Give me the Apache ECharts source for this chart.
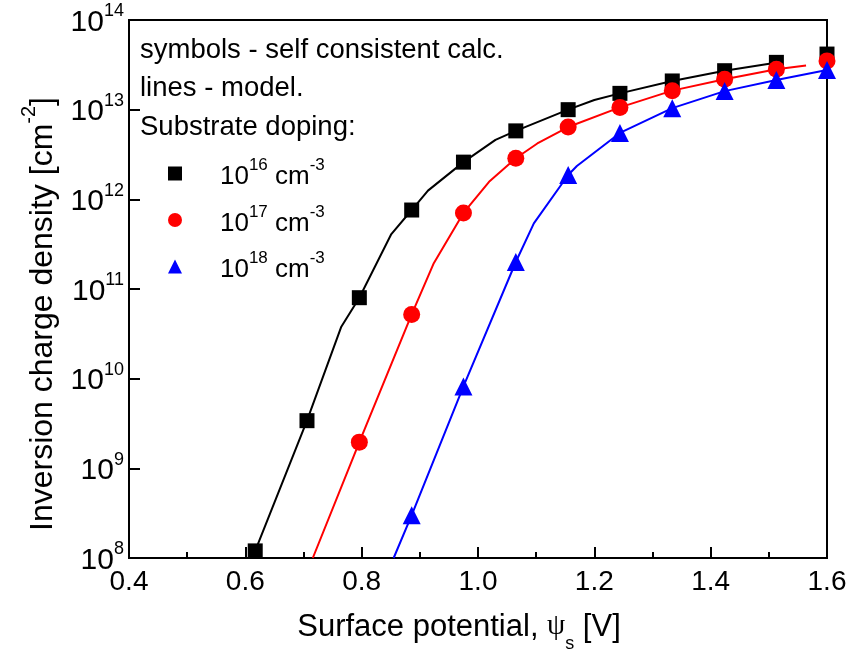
<!DOCTYPE html>
<html><head><meta charset="utf-8">
<script src="https://cdn.jsdelivr.net/npm/echarts@6/dist/echarts.min.js"></script>
<style>html,body{margin:0;padding:0;background:#fff}#c{width:859px;height:652px}</style>
</head><body><div id="c"></div>
<script>
// ---- data ----
const xTicksMin = 0.4, xTicksMax = 1.6;
const yDecades = [8, 9, 10, 11, 12, 13, 14];

// symbols: self consistent calculation
const symX16 = [0.617, 0.706, 0.796, 0.886, 0.975, 1.065, 1.155, 1.244, 1.334, 1.424, 1.513, 1.600];
const symY16 = [1.2e8, 3.4e9, 8.0e10, 7.6e11, 2.6e12, 5.8e12, 1.0e13, 1.52e13, 2.09e13, 2.72e13, 3.37e13, 4.17e13];

const symX17 = [0.796, 0.886, 0.975, 1.065, 1.155, 1.244, 1.334, 1.424, 1.513, 1.600];
const symY17 = [1.96e9, 5.2e10, 7.05e11, 2.87e12, 6.4e12, 1.06e13, 1.63e13, 2.18e13, 2.82e13, 3.5e13];

const symX18 = [0.886, 0.975, 1.065, 1.155, 1.244, 1.334, 1.424, 1.513, 1.600];
const symY18 = [3.0e8, 8.2e9, 2.0e11, 1.87e12, 5.5e12, 1.04e13, 1.61e13, 2.14e13, 2.77e13];

// lines: model
const modX16 = [0.612, 0.617, 0.706, 0.765, 0.796, 0.851, 0.886, 0.914, 0.975, 1.030, 1.065, 1.155, 1.200, 1.244, 1.334, 1.424, 1.520];
const modY16 = [1.0e8, 1.2e8, 3.4e9, 3.8e10, 8.0e10, 4.1e11, 7.6e11, 1.25e12, 2.6e12, 4.6e12, 5.8e12, 1.0e13, 1.28e13, 1.52e13, 2.09e13, 2.72e13, 3.4e13];

const modX17 = [0.716, 0.796, 0.886, 0.924, 0.975, 1.019, 1.065, 1.102, 1.155, 1.244, 1.334, 1.424, 1.513, 1.564];
const modY17 = [1.0e8, 1.96e9, 5.2e10, 1.94e11, 7.05e11, 1.57e12, 2.87e12, 4.2e12, 6.4e12, 1.06e13, 1.63e13, 2.18e13, 2.82e13, 3.1e13];

const modX18 = [0.855, 0.886, 0.975, 1.065, 1.096, 1.155, 1.170, 1.244, 1.334, 1.424, 1.513, 1.600];
const modY18 = [1.0e8, 3.0e8, 8.2e9, 2.0e11, 5.4e11, 1.87e12, 2.35e12, 5.5e12, 1.04e13, 1.61e13, 2.14e13, 2.77e13];

const seriesNames = ['16', '17', '18'];
const colors = ['#000000', '#ff0000', '#0000ff'];
const symbols = ['rect', 'circle', 'triangle'];

const infoLines = ['symbols - self consistent calc.', 'lines - model.', 'Substrate doping:'];

// ---- build ----
const zip = (xs, ys) => xs.map((x, i) => [x, ys[i]]);
const FONT = "'Liberation Sans', Arial, Helvetica, sans-serif";
const chart = echarts.init(document.getElementById('c'), null, {renderer: 'canvas'});

const modPairs = [zip(modX16, modY16), zip(modX17, modY17), zip(modX18, modY18)];
const symPairs = [zip(symX16, symY16), zip(symX17, symY17), zip(symX18, symY18)];
const symSizes = [15, 17, 18];

const series = [];
for (let i = 0; i < 3; i++) {
  series.push({
    type: 'line', name: 'model' + seriesNames[i], data: modPairs[i],
    symbol: 'none', showSymbol: false, smooth: false, clip: true,
    lineStyle: {color: colors[i], width: 2}, itemStyle: {color: colors[i]}, z: 2,
    silent: true
  });
}
for (let i = 0; i < 3; i++) {
  series.push({
    type: 'scatter', name: seriesNames[i], data: symPairs[i],
    symbol: symbols[i], symbolSize: symSizes[i], clip: false,
    itemStyle: {color: colors[i], opacity: 1}, z: 3, silent: true
  });
}

const option = {
  animation: false,
  backgroundColor: '#fff',
  textStyle: {fontFamily: FONT, color: '#000'},
  title: {
    text: infoLines.join('\n'), left: 140, top: 31, padding: 0,
    textStyle: {fontFamily: FONT, fontSize: 27.5, fontWeight: 'normal', color: '#000', lineHeight: 38.5}
  },
  legend: {
    data: seriesNames, orient: 'vertical', left: 168, top: 157, padding: 0,
    itemWidth: 14, itemHeight: 14, itemGap: 13.5, selectedMode: false,
    formatter: n => '{p| }{b|10}{s|' + n + '}{b| cm}{s|-3}',
    textStyle: {
      color: '#000', fontFamily: FONT,
      rich: {
        p: {width: 33, fontSize: 10},
        b: {fontSize: 26, lineHeight: 33, verticalAlign: 'bottom', fontFamily: FONT, color: '#000'},
        s: {fontSize: 17, lineHeight: 14, verticalAlign: 'top', fontFamily: FONT, color: '#000'}
      }
    }
  },
  grid: {left: 129, right: 32, top: 20, bottom: 94, show: true, borderColor: '#000', borderWidth: 2,
         containLabel: false, outerBoundsMode: 'none'},
  xAxis: {
    type: 'value', min: xTicksMin, max: xTicksMax, interval: 0.2,
    name: '{a|Surface potential, }{g|ψ}{sub|s}{a| [V]}',
    nameLocation: 'middle', nameGap: 54,
    nameTextStyle: {
      padding: [0, 38, 0, 0],
      rich: {
        a: {fontSize: 31, lineHeight: 36, verticalAlign: 'top', fontFamily: FONT, color: '#000'},
        g: {fontSize: 29, lineHeight: 36, verticalAlign: 'top', fontFamily: "'Liberation Serif', serif", color: '#000'},
        sub: {fontSize: 18, lineHeight: 41, verticalAlign: 'bottom', fontFamily: FONT, color: '#000'}
      }
    },
    axisLine: {show: true, lineStyle: {color: '#000', width: 2}},
    axisTick: {show: true, inside: true, length: 11, lineStyle: {color: '#000', width: 2}},
    minorTick: {show: true, splitNumber: 2, length: 6, lineStyle: {color: '#000', width: 2}},
    splitLine: {show: false},
    axisLabel: {formatter: v => v.toFixed(1), fontSize: 28, color: '#000', fontFamily: FONT, margin: 10}
  },
  yAxis: {
    type: 'log', logBase: 10, min: Math.pow(10, yDecades[0]), max: Math.pow(10, yDecades[yDecades.length - 1]),
    splitNumber: yDecades.length - 1,
    name: '{a|Inversion charge density [cm}{s|-2}{a|]}',
    nameLocation: 'middle', nameGap: 70,
    nameTextStyle: {
      padding: [0, 50, 0, 0],
      rich: {
        a: {fontSize: 32, lineHeight: 40, verticalAlign: 'bottom', fontFamily: FONT, color: '#000'},
        s: {fontSize: 20, lineHeight: 16, verticalAlign: 'top', fontFamily: FONT, color: '#000'}
      }
    },
    axisLine: {show: true, lineStyle: {color: '#000', width: 2}},
    axisTick: {show: true, inside: true, length: 11, lineStyle: {color: '#000', width: 2}},
    minorTick: {show: false},
    splitLine: {show: false},
    axisLabel: {
      margin: 5,
      formatter: v => '{b|10}{s|' + Math.round(Math.log10(v)) + '}',
      rich: {
        b: {fontSize: 30, lineHeight: 35, verticalAlign: 'bottom', fontFamily: FONT, color: '#000'},
        s: {fontSize: 18, lineHeight: 14, verticalAlign: 'top', fontFamily: FONT, color: '#000'}
      }
    }
  },
  series: series
};
chart.setOption(option);
</script>
</body></html>
